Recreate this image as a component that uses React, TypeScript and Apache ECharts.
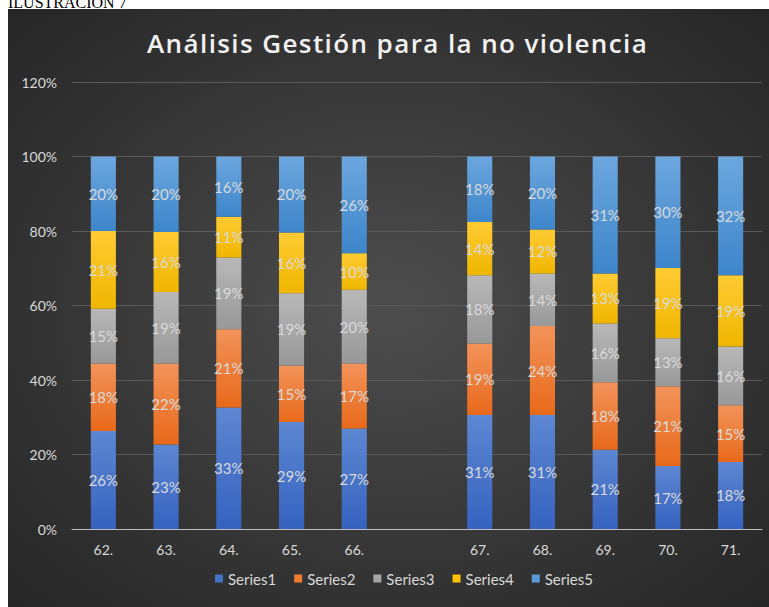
import React, { useEffect, useRef } from "react";
import * as echarts from "echarts";

const categories = ["62.", "63.", "64.", "65.", "66.", "", "67.", "68.", "69.", "70.", "71."];
const series1 = [26.3, 22.7, 32.6, 28.7, 27.0, null, 30.6, 30.6, 21.3, 16.9, 18.0];
const series2 = [18.1, 21.7, 21.0, 15.2, 17.4, null, 19.2, 23.9, 18.1, 21.4, 15.2];
const series3 = [14.7, 19.2, 19.3, 19.4, 19.8, null, 18.3, 14.1, 15.8, 12.9, 15.8];
const series4 = [20.9, 16.1, 10.9, 16.3, 9.8, null, 14.3, 11.8, 13.4, 18.9, 19.1];
const series5 = [20.0, 20.3, 16.2, 20.4, 26.0, null, 17.6, 19.6, 31.4, 29.9, 31.9];
const seriesNames = ["Series1", "Series2", "Series3", "Series4", "Series5"];
const yTicks = { min: 0, max: 120, interval: 20 };

const colorPairs: [string, string, string][] = [
  ["#5d87d2", "#3562bf", "#4472C4"],
  ["#f2935a", "#e8691a", "#ED7D31"],
  ["#b8b8b8", "#989898", "#A5A5A5"],
  ["#ffcb33", "#efb600", "#FFC000"],
  ["#6ca7de", "#3d85ca", "#5B9BD5"],
];

const css = `
.chart-root svg text[style*="Open Sans"], .chart-root svg text[font-family*="Open Sans"] { letter-spacing: 1.4px; }
`;

export default function App() {
  const ref = useRef<HTMLDivElement>(null);
  useEffect(() => {
    if (!ref.current) return;
    const chart = echarts.init(ref.current, null, { renderer: "svg" });
    const allData = [series1, series2, series3, series4, series5];
    const font = "Lato, sans-serif";
    chart.setOption({
      animation: false,
      backgroundColor: "#ffffff",
      graphic: [
        {
          type: "text",
          left: 8,
          top: -6,
          silent: true,
          style: {
            text: "ILUSTRACIÓN 7",
            font: "16px 'Liberation Serif', serif",
            fill: "#000000",
          },
        },
        {
          type: "rect",
          shape: { x: 8, y: 9, width: 761, height: 598 },
          silent: true,
          style: {
            fill: {
              type: "radial",
              x: 0.5,
              y: 0.5,
              r: 0.75,
              colorStops: [
                { offset: 0, color: "#4d4d4d" },
                { offset: 1, color: "#232323" },
              ],
            },
          },
        },
      ],
      title: {
        text: "Análisis Gestión para la no violencia",
        left: 142,
        top: 25,
        textStyle: {
          color: "#f2f2f2",
          fontSize: 26,
          fontWeight: 600,
          fontFamily: "'Open Sans', sans-serif",
        },
      },
      legend: {
        bottom: 16,
        left: 210,
        itemWidth: 8,
        itemHeight: 8,
        itemGap: 18,
        icon: "rect",
        textStyle: { color: "#d9d9d9", fontSize: 15, fontFamily: font },
        data: seriesNames.map((n, i) => ({ name: n, itemStyle: { color: colorPairs[i][2] } })),
      },
      grid: { left: 72, right: 7, top: 82, bottom: 78 },
      xAxis: {
        type: "category",
        data: categories,
        axisTick: { show: false },
        axisLine: { lineStyle: { color: "#bfbfbf", width: 1 } },
        axisLabel: { color: "#d9d9d9", fontSize: 14, fontFamily: font, margin: 13 },
      },
      yAxis: {
        type: "value",
        min: yTicks.min,
        max: yTicks.max,
        interval: yTicks.interval,
        axisLine: { show: false },
        axisTick: { show: false },
        splitLine: { lineStyle: { color: "#5a5a5a", width: 1 } },
        axisLabel: {
          color: "#d9d9d9",
          fontSize: 14,
          fontFamily: font,
          margin: 15,
          formatter: "{value}%",
        },
      },
      series: allData.map((d, i) => ({
        name: seriesNames[i],
        type: "bar",
        stack: "total",
        barWidth: "40%",
        data: d,
        itemStyle: {
          color: {
            type: "linear",
            x: 0,
            y: 0,
            x2: 0,
            y2: 1,
            colorStops: [
              { offset: 0, color: colorPairs[i][0] },
              { offset: 1, color: colorPairs[i][1] },
            ],
          },
        },
        label: {
          show: true,
          position: "inside",
          color: "#d9d9d9",
          fontSize: 15,
          fontFamily: font,
          formatter: (p: any) => (p.value == null ? "" : Math.round(p.value) + "%"),
        },
      })),
    });
    return () => chart.dispose();
  }, []);
  return (
    <>
      <style>{css}</style>
      <div
        ref={ref}
        className="chart-root"
        style={{ position: "absolute", left: 0, top: 0, width: 769, height: 607 }}
      />
    </>
  );
}
